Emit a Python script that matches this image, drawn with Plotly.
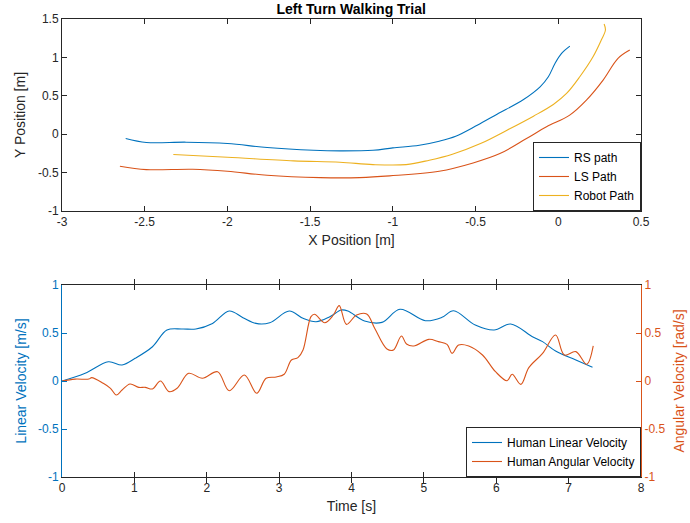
import plotly.graph_objects as go

# ---- Top plot: paths ----
rs_x = [-2.615, -2.49, -2.25, -2.0, -1.76, -1.48, -1.32, -1.12, -1.0, -0.84, -0.72, -0.62, -0.49, -0.37, -0.21, -0.11, -0.06, -0.02, 0.02, 0.07]
rs_y = [-0.056, -0.108, -0.104, -0.121, -0.174, -0.209, -0.217, -0.209, -0.178, -0.143, -0.091, -0.026, 0.117, 0.261, 0.452, 0.617, 0.748, 0.921, 1.052, 1.147]

ls_x = [-2.65, -2.49, -2.21, -2.0, -1.76, -1.44, -1.2, -1.02, -0.72, -0.515, -0.353, -0.192, -0.071, 0.069, 0.17, 0.271, 0.361, 0.432]
ls_y = [-0.417, -0.461, -0.456, -0.482, -0.535, -0.565, -0.565, -0.543, -0.482, -0.374, -0.252, -0.056, 0.096, 0.248, 0.443, 0.704, 0.987, 1.095]

robot_x = [-2.327, -2.0, -1.6, -1.32, -1.12, -0.92, -0.78, -0.64, -0.47, -0.31, -0.15, -0.03, 0.05, 0.13, 0.21, 0.26, 0.285, 0.277]
robot_y = [-0.265, -0.30, -0.348, -0.365, -0.396, -0.396, -0.339, -0.261, -0.122, 0.052, 0.235, 0.387, 0.53, 0.748, 1.008, 1.226, 1.356, 1.434]

# ---- Bottom plot: velocities ----
t_lin = [0, 0.32, 0.64, 0.83, 1.01, 1.25, 1.45, 1.66, 1.85, 2.08, 2.31, 2.50, 2.68, 2.87, 3.14, 3.33, 3.51, 3.70, 3.86, 3.95, 4.18, 4.42, 4.67, 5.02, 5.25, 5.41, 5.71, 5.97, 6.2, 6.5, 6.64, 6.82, 7.10, 7.33]
v_lin = [0, 0.08, 0.2, 0.167, 0.236, 0.357, 0.531, 0.542, 0.542, 0.60, 0.729, 0.66, 0.6, 0.607, 0.729, 0.653, 0.618, 0.67, 0.74, 0.729, 0.625, 0.611, 0.747, 0.628, 0.663, 0.732, 0.583, 0.531, 0.594, 0.462, 0.41, 0.3125, 0.219, 0.143]

t_ang = [0, 0.18, 0.37, 0.41, 0.57, 0.67, 0.75, 0.83, 0.94, 1.06, 1.15, 1.25, 1.36, 1.48, 1.59, 1.75, 1.94, 2.15, 2.31, 2.52,
         2.69, 2.82, 2.96, 3.07, 3.17, 3.26, 3.33, 3.44, 3.49, 3.63, 3.75, 3.83, 3.93, 4.07, 4.21, 4.32, 4.49, 4.58, 4.69, 4.76,
         4.86, 5.07, 5.20, 5.32, 5.39, 5.48, 5.62, 5.81, 5.99, 6.15, 6.22, 6.34, 6.45, 6.64, 6.82, 6.94, 7.10, 7.25, 7.34]
w_ang = [0, 0.02, 0.02, 0.035, -0.024, -0.076, -0.146, -0.094, -0.031, -0.066, -0.066, -0.083, 0, -0.111, -0.076, 0.08, 0.028, 0.097, -0.101, 0.0625,
         -0.128, 0.028, 0.042, 0.07, 0.219, 0.243, 0.323, 0.67, 0.695, 0.607, 0.6875, 0.785, 0.59, 0.6875, 0.698, 0.549, 0.333, 0.323, 0.469, 0.385,
         0.365, 0.434, 0.41, 0.382, 0.288, 0.375, 0.365, 0.271, 0.097, 0.003, 0.07, -0.035, 0.139, 0.288, 0.479, 0.271, 0.306, 0.174, 0.365]

# ---- Tick labels ----
top_x_ticks = [-3, -2.5, -2, -1.5, -1, -0.5, 0, 0.5]
top_x_labels = ["-3", "-2.5", "-2", "-1.5", "-1", "-0.5", "0", "0.5"]
top_y_ticks = [-1, -0.5, 0, 0.5, 1, 1.5]
top_y_labels = ["-1", "-0.5", "0", "0.5", "1", "1.5"]
bot_x_ticks = [0, 1, 2, 3, 4, 5, 6, 7, 8]
bot_x_labels = ["0", "1", "2", "3", "4", "5", "6", "7", "8"]
bot_y_ticks = [-1, -0.5, 0, 0.5, 1]
bot_y_labels = ["-1", "-0.5", "0", "0.5", "1"]

BLUE = "#0072BD"
ORANGE = "#D95319"
YELLOW = "#EDB120"
AX = "#262626"
FONT = "Liberation Sans, Arial, sans-serif"
TICK = 12
TITLE = 14

fig = go.Figure()
fig.add_trace(go.Scatter(x=rs_x, y=rs_y, mode="lines", name="RS path", line=dict(color=BLUE, width=1.1, shape="spline"),
                         xaxis="x", yaxis="y", legend="legend"))
fig.add_trace(go.Scatter(x=ls_x, y=ls_y, mode="lines", name="LS Path", line=dict(color=ORANGE, width=1.1, shape="spline"),
                         xaxis="x", yaxis="y", legend="legend"))
fig.add_trace(go.Scatter(x=robot_x, y=robot_y, mode="lines", name="Robot Path", line=dict(color=YELLOW, width=1.1, shape="spline"),
                         xaxis="x", yaxis="y", legend="legend"))
fig.add_trace(go.Scatter(x=t_lin, y=v_lin, mode="lines", name="Human Linear Velocity", line=dict(color=BLUE, width=1.1, shape="spline"),
                         xaxis="x2", yaxis="y2", legend="legend2"))
fig.add_trace(go.Scatter(x=t_ang, y=w_ang, mode="lines", name="Human Angular Velocity", line=dict(color=ORANGE, width=1.1, shape="spline"),
                         xaxis="x2", yaxis="y3", legend="legend2"))

top_dom = [0.5808, 1.0]
bot_dom = [0.0, 0.4192]
common = dict(showgrid=False, zeroline=False, showline=True, linewidth=1, ticks="inside", ticklen=5,
              tickwidth=1, automargin=False)

fig.update_layout(
    width=690, height=523,
    margin=dict(l=62, r=49, t=19, b=46),
    plot_bgcolor="white", paper_bgcolor="white",
    font=dict(family=FONT, color=AX, size=TICK),
    title=dict(text="<b>Left Turn Walking Trial</b>", x=0.509, xanchor="center", y=0.982, yanchor="middle",
               font=dict(size=TITLE, color="black", family=FONT)),
    xaxis=dict(domain=[0, 1], anchor="y", range=[-3, 0.5], tickvals=top_x_ticks, ticktext=top_x_labels,
               linecolor=AX, tickcolor=AX, mirror="allticks", tickfont=dict(size=TICK, color=AX, family=FONT),
               title=dict(text="X Position [m]", font=dict(size=TITLE, color=AX), standoff=6), **common),
    yaxis=dict(domain=top_dom, anchor="x", range=[-1, 1.5], tickvals=top_y_ticks, ticktext=top_y_labels,
               linecolor=AX, tickcolor=AX, mirror="allticks", tickfont=dict(size=TICK, color=AX, family=FONT),
               title=dict(text="Y Position [m]", font=dict(size=TITLE, color=AX), standoff=8), **common),
    xaxis2=dict(domain=[0, 1], anchor="y2", range=[0, 8], tickvals=bot_x_ticks, ticktext=bot_x_labels,
                linecolor=AX, tickcolor=AX, mirror="allticks", tickfont=dict(size=TICK, color=AX, family=FONT),
                title=dict(text="Time [s]", font=dict(size=TITLE, color=AX), standoff=6), **common),
    yaxis2=dict(domain=bot_dom, anchor="x2", range=[-1, 1], tickvals=bot_y_ticks, ticktext=bot_y_labels,
                linecolor=BLUE, tickcolor=BLUE, mirror=False, tickfont=dict(size=TICK, color=BLUE, family=FONT),
                title=dict(text="Linear Velocity [m/s]", font=dict(size=TITLE, color=BLUE), standoff=8), **common),
    yaxis3=dict(overlaying="y2", side="right", anchor="x2", range=[-1, 1], tickvals=bot_y_ticks, ticktext=bot_y_labels,
                linecolor=ORANGE, tickcolor=ORANGE, tickfont=dict(size=TICK, color=ORANGE, family=FONT),
                title=dict(text="Angular Velocity [rad/s]", font=dict(size=TITLE, color=ORANGE), standoff=9), **common),
    legend=dict(x=1, xanchor="right", y=0.5808, yanchor="bottom", bgcolor="white", bordercolor=AX, borderwidth=1,
                font=dict(size=12, color="black", family=FONT), tracegroupgap=0, itemwidth=30),
    legend2=dict(x=1, xanchor="right", y=0, yanchor="bottom", bgcolor="white", bordercolor=AX, borderwidth=1,
                 font=dict(size=12, color="black", family=FONT), tracegroupgap=0, itemwidth=30),
)

fig.write_html("out.html", config={"displayModeBar": False},
               post_script="document.body.style.margin='0px';")
